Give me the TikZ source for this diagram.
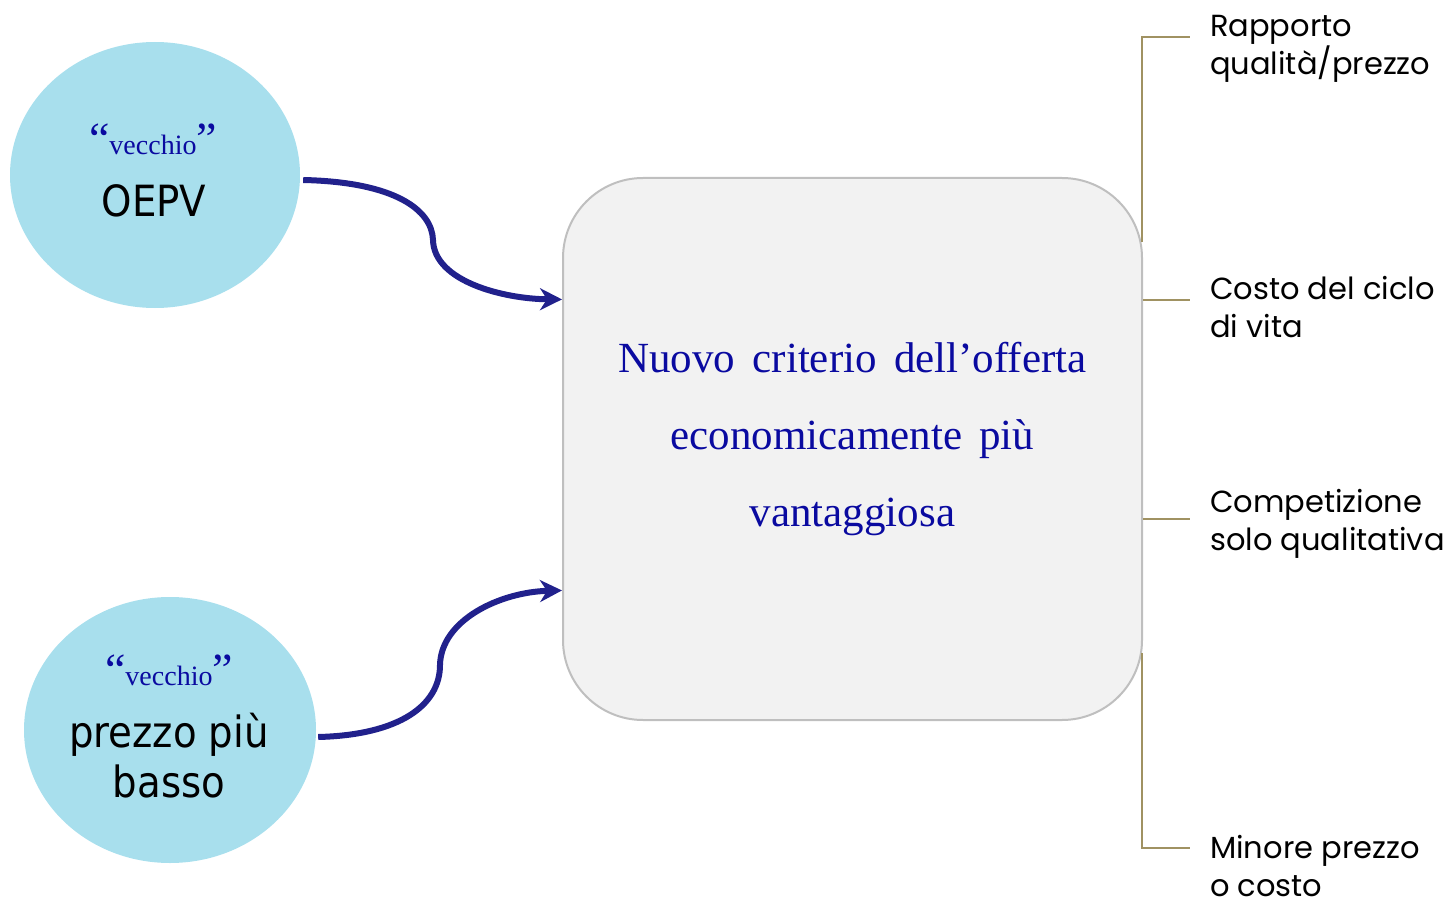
\documentclass[tikz,border=0pt]{standalone}
\usepackage{fontspec}
\setmainfont{Liberation Serif}
\newfontfamily\titlefont[WordSpace=1.6]{Liberation Serif}
\newfontfamily\circfont{DejaVu Sans Condensed}
\newfontfamily\sidefont{Poppins}
\usetikzlibrary{shapes.geometric,arrows.meta,calc}
\definecolor{circfill}{RGB}{168,223,237}
\definecolor{boxfill}{RGB}{242,242,242}
\definecolor{boxline}{RGB}{191,191,191}
\definecolor{txtblue}{RGB}{10,10,160}
\definecolor{arrblue}{RGB}{33,33,140}
\definecolor{brkcol}{RGB}{160,146,98}
\tikzset{
  circ/.style={ellipse, fill=circfill, draw=none, inner sep=0pt, minimum width=290pt, minimum height=266pt},
  mainbox/.style={draw=boxline, line width=2pt, fill=boxfill, rounded corners=80pt, minimum width=579pt, minimum height=542pt, inner sep=0pt},
  conn/.style={draw=arrblue, line width=6pt, -{Stealth[length=22pt,width=22pt,inset=7pt]}},
  brk/.style={draw=brkcol, line width=2pt},
  sidetxt/.style={font=\sidefont\fontsize{30.5}{38}\selectfont, align=left, anchor=base west, inner sep=0pt},
  oldtxt/.style={font=\circfont\fontsize{43}{50}\selectfont, align=center, anchor=base, inner sep=0pt},
  vecc/.style={text=txtblue, anchor=base, inner sep=0pt},
}
\newcommand{\vecchiolabel}{{\fontsize{46}{46}\selectfont “}{\fontsize{28}{28}\selectfont vecchio}{\fontsize{46}{46}\selectfont ”}}
\begin{document}
\begin{tikzpicture}[x=1pt,y=-1pt]
\useasboundingbox (0,0) rectangle (1451,904);
% circles
\node[circ] (c1) at (155,175) {};
\node[circ, minimum width=292pt] (c2) at (170,730) {};
\node[vecc] (v1) at (153,155) {\vecchiolabel};
\node[oldtxt] (o1) at (154,217) {OEPV};
\node[vecc] (v2) at (169,685) {\vecchiolabel};
\node[oldtxt] (o2) at (169,797) {prezzo più\\basso};
% main box
\node[mainbox] (box) at (852.5,449) {};
\node[font=\titlefont\fontsize{43}{77}\selectfont, text=txtblue, align=center, anchor=base, inner sep=0pt] (title) at (852.5,526) {Nuovo criterio dell’offerta\\economicamente più\\vantaggiosa};
% connectors
\draw[conn] ([xshift=3pt,yshift=-5pt]c1.east) .. controls (395,182) and (432,210) .. (433,240) .. controls (434,282) and (505,299) .. ($(box.north west)!0.225!(box.south west)$);
\draw[conn] ([xshift=2pt,yshift=-7pt]c2.east) .. controls (400,735) and (440,705) .. (440,665) .. controls (441,620) and (500,592) .. ($(box.north west)!0.76!(box.south west)$);
% side texts
\node[sidetxt] (t1) at (1210,75) {Rapporto\\qualità/prezzo};
\node[sidetxt] (t2) at (1210,337) {Costo del ciclo\\di vita};
\node[sidetxt] (t3) at (1210,550) {Competizione\\solo qualitativa};
\node[sidetxt] (t4) at (1210,896) {Minore prezzo\\o costo};
% bracket
\coordinate (b1) at (1142,37);
\coordinate (b1e) at (1190,37);
\coordinate (b1b) at (1142,242);
\coordinate (b2e) at (1190,300);
\coordinate (b3e) at (1190,519);
\coordinate (b4t) at (1142,653);
\coordinate (b4) at (1142,848);
\coordinate (b4e) at (1190,848);
\draw[brk] (b1b) -- (b1) -- (b1e);
\draw[brk] (box.east |- b2e) -- (b2e);
\draw[brk] (box.east |- b3e) -- (b3e);
\draw[brk] (b4t) -- (b4) -- (b4e);
\end{tikzpicture}
\end{document}
